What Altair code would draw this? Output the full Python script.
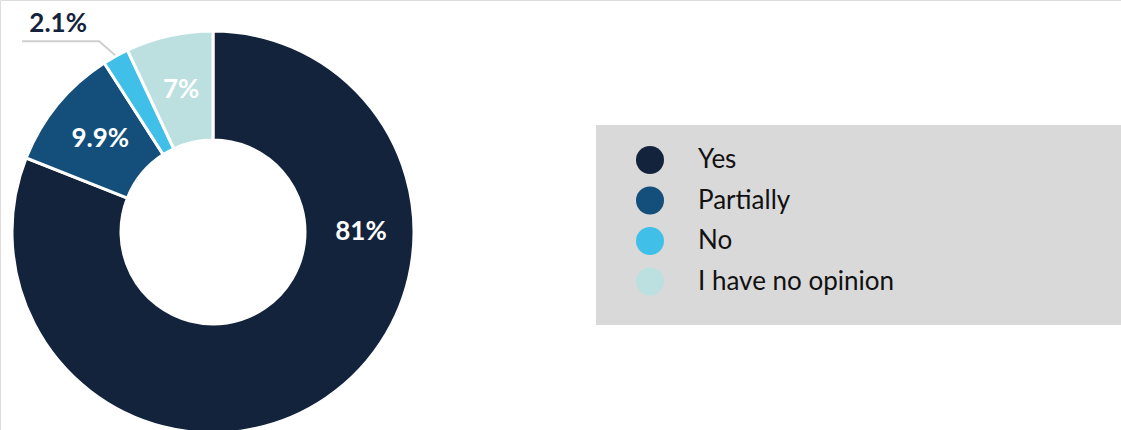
import math
import altair as alt
import pandas as pd

categories = ["Yes", "Partially", "No", "I have no opinion"]
values = [81.0, 9.9, 2.1, 7.0]
labels = ["81%", "9.9%", "2.1%", "7%"]
colors = ["#13233b", "#134f7a", "#40c0e8", "#bbe0df"]

# layout constants
CX, CY = 213, 232
R_OUT, R_IN = 201, 92
R_LABEL = 146
FONT = "Lato"
PCT_SIZE = 26

df = pd.DataFrame({
    "category": categories,
    "value": values,
    "order": list(range(len(categories))),
    "label": [l if c in ("Partially", "I have no opinion") else "" for c, l in zip(categories, labels)],
})
yes_df = pd.DataFrame({"t": [labels[0]]})

# outside label for the small "No" slice, positioned from the slice's mid angle
total = sum(values)
start = sum(values[:2])
mid = (start + values[2] / 2) / total * 2 * math.pi
p0 = (CX + (R_OUT + 1) * math.sin(mid), CY - (R_OUT + 1) * math.cos(mid))
p1 = (p0[0] - 16, p0[1] - 14)
p2 = (22, p1[1])
leader = pd.DataFrame({"x": [p0[0], p1[0], p2[0]], "y": [p0[1], p1[1], p2[1]], "i": [0, 1, 2]})
out_label = pd.DataFrame({"x": [p1[0] - 41], "y": [p1[1] - 17], "t": [labels[2]]})

bg = alt.Chart(pd.DataFrame({"a": [0]})).mark_rect(color="#d9d9d9").encode(
    x=alt.value(596), x2=alt.value(1121), y=alt.value(125), y2=alt.value(325)
)

base = alt.Chart(df).encode(
    theta=alt.Theta("value:Q", stack=True),
    order=alt.Order("order:Q"),
)

arcs = base.mark_arc(outerRadius=R_OUT, innerRadius=R_IN, stroke="white", strokeWidth=3).encode(
    x=alt.value(CX), y=alt.value(CY),
    color=alt.Color(
        "category:N",
        scale=alt.Scale(domain=categories, range=colors),
        sort=categories,
        legend=alt.Legend(
            title=None, orient="none", legendX=636, legendY=146,
            symbolType="circle", symbolSize=784, symbolStrokeWidth=0, symbolOpacity=1,
            labelFontSize=26, labelFont=FONT, labelColor="#111111", labelLimit=0,
            labelOffset=34, rowPadding=12.5, padding=0,
        ),
    ),
)

texts = base.mark_text(radius=R_LABEL, fontSize=PCT_SIZE, fontWeight="bold", font=FONT, color="white").encode(
    x=alt.value(CX), y=alt.value(CY), text="label:N"
)

yes_text = alt.Chart(yes_df).mark_text(fontSize=PCT_SIZE, fontWeight="bold", font=FONT, color="white").encode(
    x=alt.value(CX), y=alt.value(CY), theta=alt.value(math.pi / 2), radius=alt.value(148), text="t:N"
)

line = alt.Chart(leader).mark_line(color="#d0d0d0", strokeWidth=2).encode(
    x=alt.X("x:Q", scale=None), y=alt.Y("y:Q", scale=None), order="i:Q"
)
olabel = alt.Chart(out_label).mark_text(fontSize=PCT_SIZE, fontWeight="bold", font=FONT, color="#13233b").encode(
    x=alt.X("x:Q", scale=None), y=alt.Y("y:Q", scale=None), text="t:N"
)

chart = alt.layer(bg, arcs, texts, yes_text, line, olabel).properties(
    width=1121, height=430, padding=0, autosize=alt.AutoSizeParams(type="none")
).configure_view(stroke=None).configure(background="white")

chart.save("out.html", embed_options={"renderer": "svg", "actions": False})
